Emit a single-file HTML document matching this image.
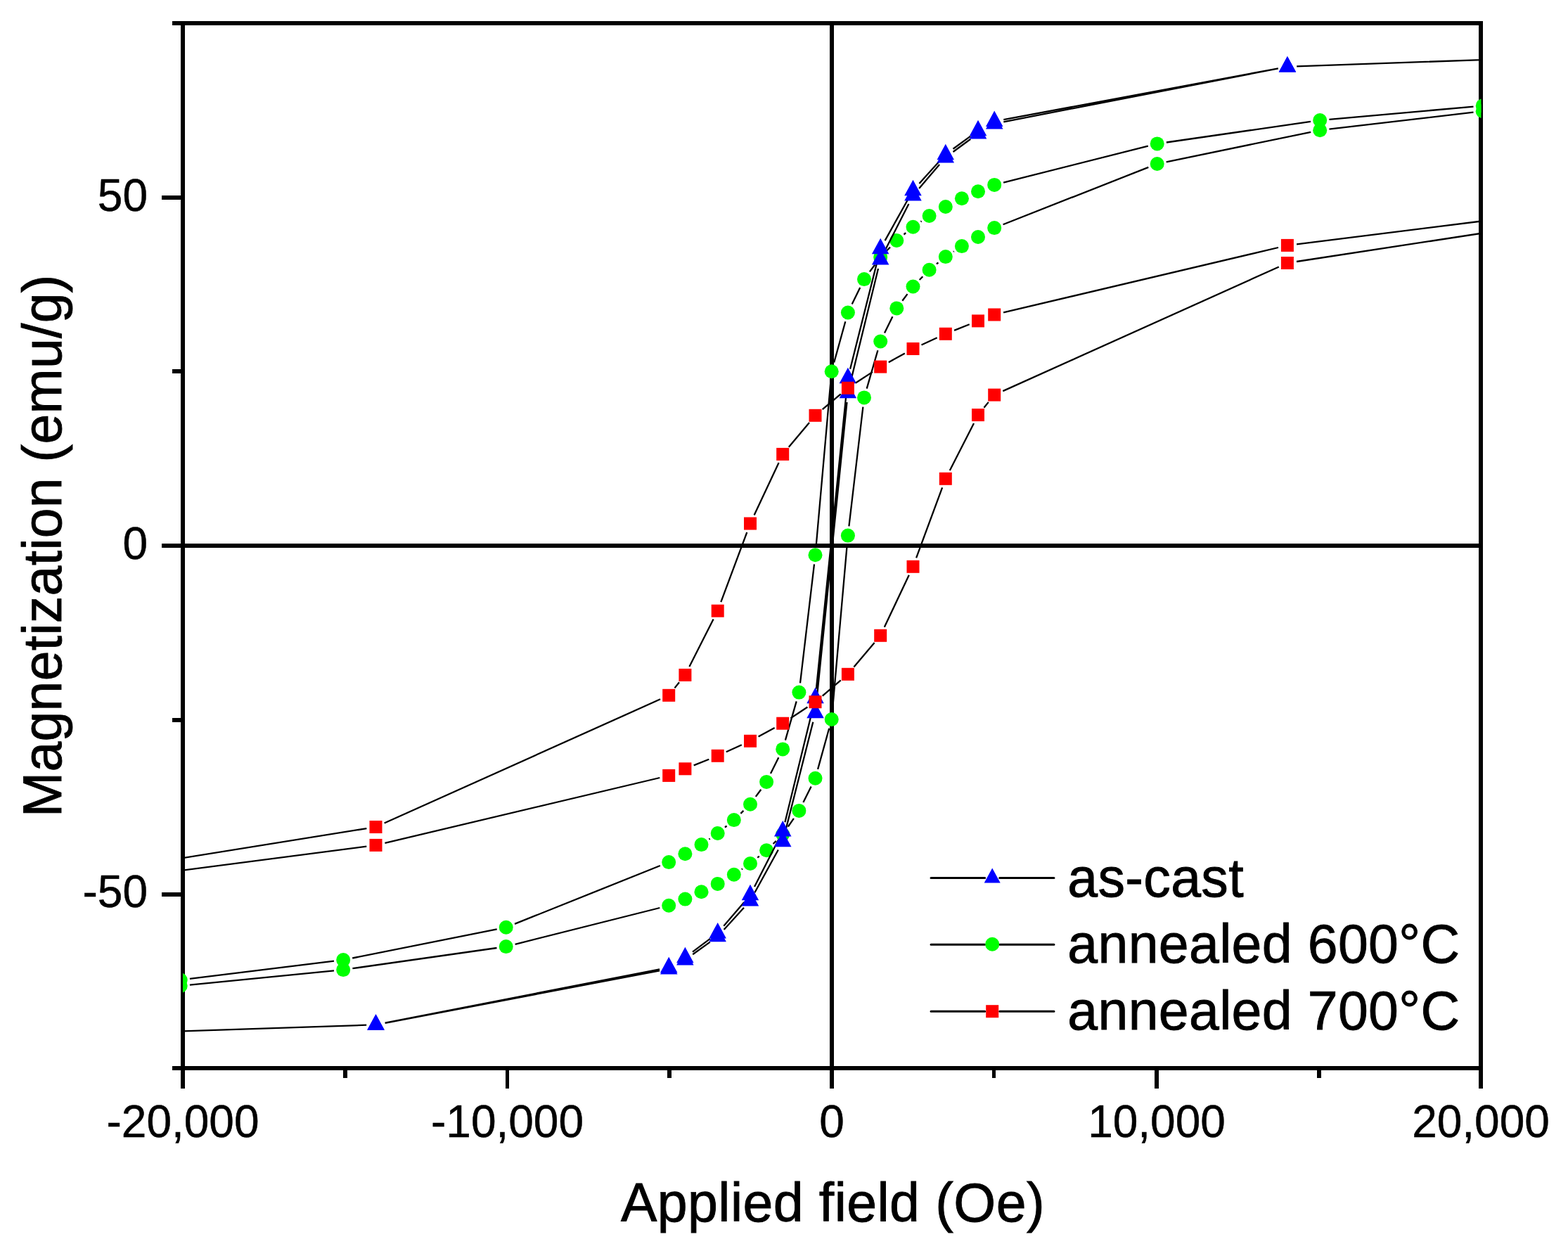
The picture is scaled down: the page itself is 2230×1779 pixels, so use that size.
<!DOCTYPE html>
<html><head><meta charset="utf-8"><title>Magnetization hysteresis</title>
<style>html,body{margin:0;padding:0;background:#fff;}body{width:2230px;height:1779px;overflow:hidden;}svg{display:block;}</style>
</head><body>
<svg width="2230" height="1779" viewBox="0 0 2230 1779">
<rect width="2230" height="1779" fill="#fff"/>
<defs><clipPath id="pc"><rect x="260" y="33" width="1846.5" height="1486"/></clipPath></defs>
<g fill="#000"><rect x="245" y="30" width="1864" height="6"/><rect x="245" y="1516" width="1864" height="6"/><rect x="257" y="30" width="6" height="1518"/><rect x="2103" y="30" width="6" height="1518"/><rect x="1180" y="30" width="6" height="1518"/><rect x="230" y="773" width="1876" height="6"/><rect x="230" y="278" width="30" height="6"/><rect x="230" y="1269" width="30" height="6"/><rect x="245" y="525" width="15" height="6"/><rect x="245" y="1021" width="15" height="6"/><rect x="719" y="1519" width="5" height="29"/><rect x="1642" y="1519" width="6" height="29"/><rect x="488" y="1519" width="6" height="14"/><rect x="949" y="1519" width="6" height="14"/><rect x="1411" y="1519" width="5" height="14"/><rect x="1873" y="1519" width="6" height="14"/></g>
<g font-family="'Liberation Sans', Arial, Helvetica, sans-serif" font-size="64" fill="#000" stroke="#000" stroke-width="0.5"><text x="210" y="299.5" text-anchor="end">50</text><text x="210" y="794.5" text-anchor="end">0</text><text x="210" y="1290.0" text-anchor="end">-50</text><text x="260" y="1617" text-anchor="middle">-20,000</text><text x="721.5" y="1617" text-anchor="middle">-10,000</text><text x="1183" y="1617" text-anchor="middle">0</text><text x="1645" y="1617" text-anchor="middle">10,000</text><text x="2106" y="1617" text-anchor="middle">20,000</text></g>
<text font-family="'Liberation Sans', Arial, Helvetica, sans-serif" font-size="77" stroke="#000" stroke-width="0.9" letter-spacing="0.45" x="1184.5" y="1736.5" text-anchor="middle">Applied field (Oe)</text>
<text font-family="'Liberation Sans', Arial, Helvetica, sans-serif" font-size="77" stroke="#000" stroke-width="0.9" letter-spacing="0.27" transform="translate(87.2 776.1) rotate(-90)" text-anchor="middle">Magnetization (emu/g)</text>
<g clip-path="url(#pc)"><path d="M2095.5 151.6L1890.4 169.8M1864.0 172.9L1658.9 202.5M1632.8 207.7L1427.1 259.6M1310.6 314.5L1309.5 315.2M1288.2 331.2L1285.5 333.5M1266.0 351.5L1261.4 356.3M1244.2 376.5L1236.9 386.4M1223.2 409.1L1211.7 432.5M1202.3 457.3L1186.2 515.5M1181.5 541.5L1160.7 776.0M1158.0 802.4L1138.0 971.4M1132.7 997.4L1116.9 1052.6M1107.3 1077.3L1096.0 1100.0M1082.3 1122.7L1074.8 1132.9M1057.4 1152.9L1053.4 1156.9M1033.5 1174.5L1031.0 1176.6M1009.7 1192.6L1008.4 1193.5M938.9 1231.0L732.0 1313.9M706.7 1321.4L501.2 1362.5M475.0 1366.7L269.9 1391.9M269.9 1400.7L475.0 1380.4M501.4 1377.2L706.5 1348.0M732.6 1342.8L938.3 1291.0M1054.8 1236.3L1056.0 1235.5M1077.3 1219.6L1079.8 1217.7M1099.6 1200.0L1103.8 1195.9M1120.8 1175.6L1128.9 1163.9M1142.4 1141.0L1153.6 1118.6M1163.1 1093.9L1179.2 1035.8M1183.9 1009.8L1204.7 774.8M1207.4 748.4L1227.4 578.6M1232.7 552.6L1248.4 498.3M1258.0 473.6L1269.4 450.3M1283.3 427.8L1290.5 418.1M1307.7 398.0L1312.3 393.3M1331.9 375.4L1334.4 373.5M1355.9 357.9L1356.7 357.3M1426.6 319.2L1633.3 237.9M1658.7 230.3L1864.2 187.9M1890.4 183.7L2095.5 159.7" stroke="#000" stroke-width="2.3" fill="none"/><circle cx="2108.7" cy="150.4" r="10" fill="#00ff00"/><circle cx="1877.2" cy="171.0" r="10" fill="#00ff00"/><circle cx="1645.7" cy="204.4" r="10" fill="#00ff00"/><circle cx="1414.2" cy="262.9" r="10" fill="#00ff00"/><circle cx="1391.0" cy="272.2" r="10" fill="#00ff00"/><circle cx="1367.9" cy="282.3" r="10" fill="#00ff00"/><circle cx="1344.8" cy="294.0" r="10" fill="#00ff00"/><circle cx="1321.6" cy="307.0" r="10" fill="#00ff00"/><circle cx="1298.5" cy="322.7" r="10" fill="#00ff00"/><circle cx="1275.3" cy="342.0" r="10" fill="#00ff00"/><circle cx="1252.2" cy="365.8" r="10" fill="#00ff00"/><circle cx="1229.0" cy="397.1" r="10" fill="#00ff00"/><circle cx="1205.9" cy="444.5" r="10" fill="#00ff00"/><circle cx="1182.7" cy="528.3" r="10" fill="#00ff00"/><circle cx="1159.5" cy="789.2" r="10" fill="#00ff00"/><circle cx="1136.4" cy="984.6" r="10" fill="#00ff00"/><circle cx="1113.2" cy="1065.4" r="10" fill="#00ff00"/><circle cx="1090.1" cy="1111.9" r="10" fill="#00ff00"/><circle cx="1067.0" cy="1143.7" r="10" fill="#00ff00"/><circle cx="1043.8" cy="1166.1" r="10" fill="#00ff00"/><circle cx="1020.7" cy="1185.0" r="10" fill="#00ff00"/><circle cx="997.5" cy="1201.1" r="10" fill="#00ff00"/><circle cx="974.4" cy="1214.2" r="10" fill="#00ff00"/><circle cx="951.2" cy="1226.1" r="10" fill="#00ff00"/><circle cx="719.7" cy="1318.8" r="10" fill="#00ff00"/><circle cx="488.2" cy="1365.1" r="10" fill="#00ff00"/><circle cx="256.7" cy="1393.5" r="10" fill="#00ff00"/><circle cx="256.7" cy="1402.0" r="10" fill="#00ff00"/><circle cx="488.2" cy="1379.1" r="10" fill="#00ff00"/><circle cx="719.7" cy="1346.1" r="10" fill="#00ff00"/><circle cx="951.2" cy="1287.7" r="10" fill="#00ff00"/><circle cx="974.4" cy="1278.6" r="10" fill="#00ff00"/><circle cx="997.5" cy="1268.3" r="10" fill="#00ff00"/><circle cx="1020.7" cy="1256.9" r="10" fill="#00ff00"/><circle cx="1043.8" cy="1243.8" r="10" fill="#00ff00"/><circle cx="1067.0" cy="1228.0" r="10" fill="#00ff00"/><circle cx="1090.1" cy="1209.3" r="10" fill="#00ff00"/><circle cx="1113.2" cy="1186.6" r="10" fill="#00ff00"/><circle cx="1136.4" cy="1152.9" r="10" fill="#00ff00"/><circle cx="1159.5" cy="1106.7" r="10" fill="#00ff00"/><circle cx="1182.7" cy="1023.0" r="10" fill="#00ff00"/><circle cx="1205.9" cy="761.6" r="10" fill="#00ff00"/><circle cx="1229.0" cy="565.4" r="10" fill="#00ff00"/><circle cx="1252.2" cy="485.5" r="10" fill="#00ff00"/><circle cx="1275.3" cy="438.4" r="10" fill="#00ff00"/><circle cx="1298.5" cy="407.5" r="10" fill="#00ff00"/><circle cx="1321.6" cy="383.8" r="10" fill="#00ff00"/><circle cx="1344.8" cy="365.1" r="10" fill="#00ff00"/><circle cx="1367.9" cy="350.1" r="10" fill="#00ff00"/><circle cx="1391.0" cy="337.0" r="10" fill="#00ff00"/><circle cx="1414.2" cy="324.1" r="10" fill="#00ff00"/><circle cx="1645.7" cy="233.0" r="10" fill="#00ff00"/><circle cx="1877.2" cy="185.2" r="10" fill="#00ff00"/><circle cx="2108.7" cy="158.2" r="10" fill="#00ff00"/><path d="M2300.0 78.2L1844.2 94.4M1817.8 97.3L1427.3 170.2M1380.3 193.6L1355.5 211.8M1335.8 229.5L1307.4 260.9M1292.0 282.3L1258.6 342.1M1248.9 366.6L1209.1 524.8M1204.5 550.9L1160.9 979.6M1156.4 1005.7L1116.4 1169.2M1107.2 1193.9L1073.0 1261.0M1058.3 1282.9L1029.3 1316.8M1010.0 1334.9L985.0 1353.7M938.1 1378.3L547.6 1454.7M521.2 1457.7L150.0 1470.0M150.0 1470.0L521.2 1457.7M547.6 1454.8L938.1 1380.4M985.2 1357.2L1009.8 1339.6M1029.6 1322.0L1058.0 1290.7M1073.4 1269.2L1106.8 1208.5M1116.5 1183.9L1156.3 1026.7M1160.9 1000.6L1204.5 572.0M1209.0 545.9L1249.0 381.9M1258.2 357.1L1292.4 289.9M1307.1 267.9L1336.1 234.0M1355.5 216.0L1380.3 197.8M1427.3 173.4L1817.8 97.4M1844.2 94.4L2300.0 78.2" stroke="#000" stroke-width="2.3" fill="none"/><polygon points="1830.9,79.9 1843.2,102.4 1818.7,102.4" fill="#0000ff"/><polygon points="1414.2,157.6 1426.5,180.1 1402.0,180.1" fill="#0000ff"/><polygon points="1391.0,170.7 1403.3,193.2 1378.8,193.2" fill="#0000ff"/><polygon points="1344.8,204.7 1357.0,227.2 1332.5,227.2" fill="#0000ff"/><polygon points="1298.5,255.7 1310.7,278.2 1286.2,278.2" fill="#0000ff"/><polygon points="1252.2,338.7 1264.4,361.2 1239.9,361.2" fill="#0000ff"/><polygon points="1205.9,522.7 1218.1,545.2 1193.6,545.2" fill="#0000ff"/><polygon points="1159.5,977.8 1171.8,1000.3 1147.3,1000.3" fill="#0000ff"/><polygon points="1113.2,1167.1 1125.5,1189.6 1101.0,1189.6" fill="#0000ff"/><polygon points="1067.0,1257.8 1079.2,1280.3 1054.7,1280.3" fill="#0000ff"/><polygon points="1020.7,1311.9 1032.9,1334.4 1008.4,1334.4" fill="#0000ff"/><polygon points="974.4,1346.7 986.6,1369.2 962.1,1369.2" fill="#0000ff"/><polygon points="951.2,1360.7 963.5,1383.2 939.0,1383.2" fill="#0000ff"/><polygon points="534.5,1442.3 546.8,1464.8 522.2,1464.8" fill="#0000ff"/><polygon points="534.5,1442.3 546.8,1464.8 522.2,1464.8" fill="#0000ff"/><polygon points="951.2,1362.9 963.5,1385.4 939.0,1385.4" fill="#0000ff"/><polygon points="974.4,1350.0 986.6,1372.5 962.1,1372.5" fill="#0000ff"/><polygon points="1020.7,1316.8 1032.9,1339.3 1008.4,1339.3" fill="#0000ff"/><polygon points="1067.0,1265.9 1079.2,1288.4 1054.7,1288.4" fill="#0000ff"/><polygon points="1113.2,1181.8 1125.5,1204.3 1101.0,1204.3" fill="#0000ff"/><polygon points="1159.5,998.8 1171.8,1021.3 1147.3,1021.3" fill="#0000ff"/><polygon points="1205.9,543.8 1218.1,566.3 1193.6,566.3" fill="#0000ff"/><polygon points="1252.2,354.0 1264.4,376.5 1239.9,376.5" fill="#0000ff"/><polygon points="1298.5,263.0 1310.7,285.5 1286.2,285.5" fill="#0000ff"/><polygon points="1344.8,208.9 1357.0,231.4 1332.5,231.4" fill="#0000ff"/><polygon points="1391.0,174.9 1403.3,197.4 1378.8,197.4" fill="#0000ff"/><polygon points="1414.2,160.9 1426.5,183.4 1402.0,183.4" fill="#0000ff"/><polygon points="1830.9,79.9 1843.2,102.4 1818.7,102.4" fill="#0000ff"/><path d="M2300.0 290.4L1844.1 347.3M1818.0 352.0L1427.1 444.4M1378.7 461.3L1357.1 469.9M1332.7 480.3L1310.5 490.5M1286.8 502.4L1263.8 515.2M1241.0 528.9L1217.0 544.5M1195.7 560.4L1169.7 582.2M1151.0 601.0L1121.8 635.7M1107.6 657.9L1072.6 732.5M1062.3 757.0L1025.3 856.2M1014.6 880.6L980.4 948.0M966.0 970.3L959.5 978.4M939.1 994.3L546.6 1170.5M521.4 1178.1L150.0 1237.9M150.0 1251.9L521.3 1203.6M547.4 1198.8L938.3 1106.0M986.7 1088.4L1008.3 1079.7M1032.8 1069.3L1054.8 1059.3M1078.6 1047.5L1101.6 1035.0M1124.4 1021.4L1148.4 1005.5M1169.7 989.6L1195.7 967.4M1214.4 948.6L1243.6 914.0M1257.8 891.8L1292.8 817.8M1303.1 793.3L1340.1 693.3M1350.8 669.0L1385.0 601.9M1399.4 579.8L1405.8 571.9M1426.3 556.1L1818.8 379.5M1844.0 372.0L2300.0 302.2" stroke="#000" stroke-width="2.3" fill="none"/><rect x="1821.9" y="339.9" width="18" height="18" fill="#ff0000"/><rect x="1405.2" y="438.5" width="18" height="18" fill="#ff0000"/><rect x="1382.0" y="447.4" width="18" height="18" fill="#ff0000"/><rect x="1335.8" y="465.8" width="18" height="18" fill="#ff0000"/><rect x="1289.5" y="487.0" width="18" height="18" fill="#ff0000"/><rect x="1243.2" y="512.6" width="18" height="18" fill="#ff0000"/><rect x="1196.9" y="542.8" width="18" height="18" fill="#ff0000"/><rect x="1150.5" y="581.8" width="18" height="18" fill="#ff0000"/><rect x="1104.2" y="636.9" width="18" height="18" fill="#ff0000"/><rect x="1058.0" y="735.5" width="18" height="18" fill="#ff0000"/><rect x="1011.7" y="859.7" width="18" height="18" fill="#ff0000"/><rect x="965.4" y="950.9" width="18" height="18" fill="#ff0000"/><rect x="942.2" y="979.8" width="18" height="18" fill="#ff0000"/><rect x="525.5" y="1167.0" width="18" height="18" fill="#ff0000"/><rect x="525.5" y="1192.9" width="18" height="18" fill="#ff0000"/><rect x="942.2" y="1093.9" width="18" height="18" fill="#ff0000"/><rect x="965.4" y="1084.3" width="18" height="18" fill="#ff0000"/><rect x="1011.7" y="1065.8" width="18" height="18" fill="#ff0000"/><rect x="1058.0" y="1044.8" width="18" height="18" fill="#ff0000"/><rect x="1104.2" y="1019.7" width="18" height="18" fill="#ff0000"/><rect x="1150.5" y="989.2" width="18" height="18" fill="#ff0000"/><rect x="1196.9" y="949.8" width="18" height="18" fill="#ff0000"/><rect x="1243.2" y="894.8" width="18" height="18" fill="#ff0000"/><rect x="1289.5" y="796.8" width="18" height="18" fill="#ff0000"/><rect x="1335.8" y="671.8" width="18" height="18" fill="#ff0000"/><rect x="1382.0" y="581.1" width="18" height="18" fill="#ff0000"/><rect x="1405.2" y="552.6" width="18" height="18" fill="#ff0000"/><rect x="1821.9" y="365.0" width="18" height="18" fill="#ff0000"/></g>
<path d="M1324 1248.5H1400.7M1421.7 1248.5H1499" stroke="#000" stroke-width="3" stroke-linecap="round"/><polygon points="1411.2,1234.5 1422.7,1255.5 1399.7,1255.5" fill="#0000ff"/><text font-family="'Liberation Sans', Arial, Helvetica, sans-serif" font-size="77" stroke="#000" stroke-width="0.9" letter-spacing="0.35" x="1518.3" y="1274.5">as-cast</text><path d="M1324 1343.2H1400.7M1421.7 1343.2H1499" stroke="#000" stroke-width="3" stroke-linecap="round"/><circle cx="1411.2" cy="1342.7" r="10" fill="#00ff00"/><text font-family="'Liberation Sans', Arial, Helvetica, sans-serif" font-size="77" stroke="#000" stroke-width="0.9" letter-spacing="0.35" x="1518.3" y="1369.2">annealed 600°C</text><path d="M1324 1438.2H1400.7M1421.7 1438.2H1499" stroke="#000" stroke-width="3" stroke-linecap="round"/><rect x="1402.2" y="1429.2" width="18" height="18" fill="#ff0000"/><text font-family="'Liberation Sans', Arial, Helvetica, sans-serif" font-size="77" stroke="#000" stroke-width="0.9" letter-spacing="0.35" x="1518.3" y="1464.2">annealed 700°C</text>
</svg>
</body></html>
